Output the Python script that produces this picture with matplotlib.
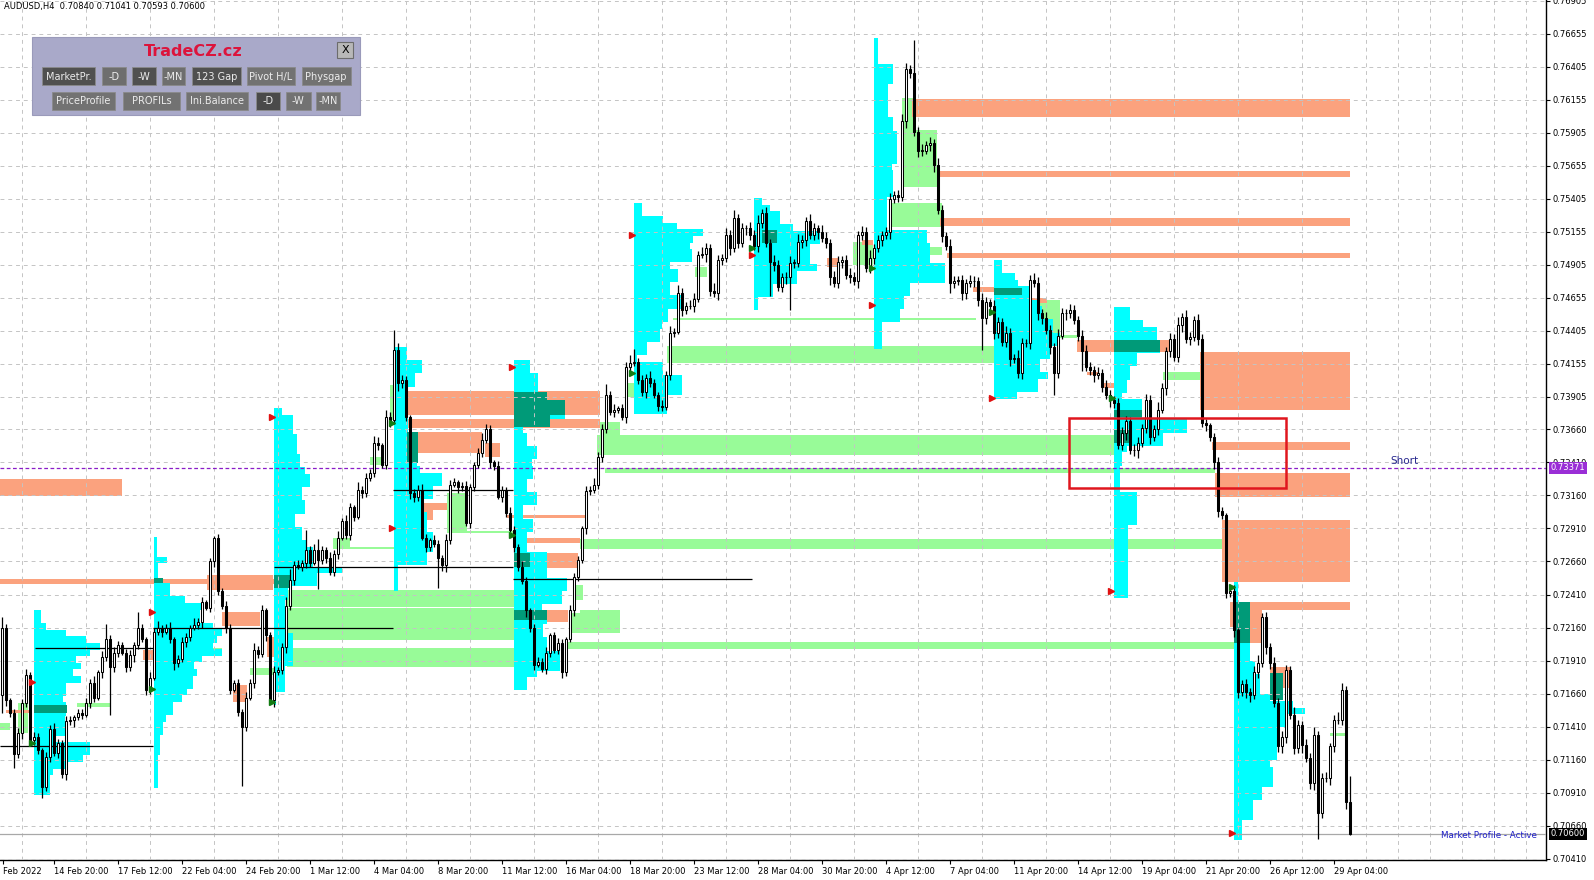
import numpy as np
import matplotlib.pyplot as plt
from matplotlib.patches import Rectangle

# ---------------- AUDUSD H4 candles (prices in 1/10000) ----------------
first_open = 7165
close_pips = [
    7216, 7161, 7151, 7120, 7136, 7159, 7180, 7131, 7133, 7123, 7095, 7118, 7139, 7121, 7129, 7105, 7145, 7146, 7148, 7151,
    7150, 7159, 7174, 7163, 7182, 7194, 7207, 7186, 7197, 7203, 7197, 7186, 7195, 7203, 7216, 7207, 7169, 7178, 7213, 7216,
    7213, 7216, 7207, 7189, 7192, 7205, 7209, 7216, 7218, 7220, 7235, 7231, 7266, 7284, 7244, 7232, 7216, 7169, 7174, 7152,
    7141, 7163, 7174, 7199, 7196, 7229, 7210, 7161, 7182, 7184, 7201, 7232, 7252, 7263, 7262, 7265, 7275, 7265, 7275, 7267,
    7275, 7269, 7258, 7272, 7284, 7297, 7286, 7307, 7300, 7320, 7318, 7329, 7333, 7356, 7354, 7339, 7375, 7373, 7426, 7401,
    7403, 7375, 7318, 7315, 7320, 7284, 7277, 7282, 7279, 7269, 7263, 7282, 7324, 7326, 7322, 7323, 7295, 7322, 7339, 7348,
    7358, 7366, 7341, 7338, 7315, 7320, 7303, 7290, 7277, 7262, 7251, 7229, 7216, 7188, 7190, 7185, 7197, 7210, 7199, 7204,
    7182, 7207, 7229, 7254, 7267, 7291, 7319, 7320, 7324, 7345, 7366, 7392, 7379, 7381, 7382, 7375, 7413, 7416, 7417, 7403,
    7394, 7405, 7401, 7392, 7384, 7383, 7407, 7439, 7440, 7469, 7456, 7459, 7459, 7465, 7498, 7499, 7503, 7471, 7469, 7494,
    7496, 7513, 7503, 7526, 7507, 7518, 7518, 7513, 7505, 7522, 7530, 7507, 7493, 7490, 7474, 7481, 7481, 7492, 7492, 7508,
    7509, 7524, 7513, 7518, 7515, 7511, 7507, 7481, 7477, 7493, 7494, 7483, 7481, 7478, 7513, 7515, 7488, 7496, 7503, 7509,
    7513, 7515, 7540, 7543, 7542, 7599, 7639, 7636, 7591, 7577, 7577, 7581, 7583, 7566, 7532, 7512, 7505, 7477, 7478, 7479,
    7469, 7477, 7478, 7478, 7464, 7450, 7462, 7459, 7439, 7447, 7432, 7439, 7419, 7420, 7409, 7431, 7431, 7479, 7477, 7454,
    7450, 7441, 7428, 7409, 7437, 7454, 7454, 7456, 7449, 7437, 7425, 7413, 7411, 7407, 7409, 7398, 7392, 7388, 7386, 7354,
    7363, 7372, 7350, 7350, 7356, 7367, 7388, 7360, 7366, 7381, 7397, 7425, 7434, 7421, 7445, 7451, 7434, 7436, 7449, 7434,
    7371, 7369, 7360, 7341, 7304, 7301, 7242, 7244, 7214, 7167, 7173, 7167, 7165, 7182, 7189, 7224, 7201, 7189, 7159, 7126,
    7133, 7184, 7150, 7125, 7142, 7127, 7117, 7098, 7135, 7076, 7102, 7102, 7126, 7146, 7146, 7169, 7084, 7060,
]
wick_up = [
    8, 3, 2, 3, 4, 3, 5, 2, 4, 3, 2, 4, 3, 5, 3, 2, 4, 3, 2, 3,
    3, 4, 3, 5, 2, 4, 12, 3, 4, 3, 2, 3, 4, 2, 12, 3, 2, 4, 3, 5,
    2, 3, 4, 2, 3, 4, 3, 2, 5, 3, 4, 2, 3, 1, 3, 2, 4, 3, 2, 3,
    2, 4, 3, 5, 3, 4, 2, 3, 5, 2, 3, 7, 8, 3, 4, 2, 15, 3, 4, 8,
    3, 2, 4, 3, 5, 2, 4, 3, 2, 6, 3, 4, 3, 5, 4, 2, 6, 4, 15, 5,
    4, 3, 2, 3, 4, 5, 3, 2, 4, 3, 2, 5, 4, 3, 2, 3, 4, 3, 2, 4,
    5, 4, 3, 2, 4, 3, 2, 4, 3, 2, 4, 3, 2, 3, 4, 3, 4, 2, 3, 4,
    3, 2, 4, 3, 3, 2, 4, 3, 5, 4, 4, 8, 3, 4, 2, 3, 4, 6, 10, 3,
    4, 3, 5, 3, 2, 4, 3, 5, 3, 6, 4, 3, 5, 4, 3, 5, 4, 3, 6, 4,
    3, 5, 4, 6, 3, 4, 3, 5, 4, 6, 3, 4, 3, 5, 4, 3, 4, 5, 3, 6,
    4, 3, 5, 4, 3, 6, 4, 3, 5, 4, 3, 4, 5, 4, 3, 5, 4, 6, 3, 4,
    3, 4, 5, 3, 4, 6, 4, 3, 25, 4, 5, 3, 4, 3, 5, 4, 3, 5, 4, 3,
    4, 3, 5, 4, 3, 5, 4, 3, 5, 4, 3, 5, 4, 3, 6, 4, 3, 4, 5, 4,
    3, 5, 4, 3, 5, 4, 3, 5, 4, 3, 4, 5, 4, 3, 4, 3, 5, 4, 3, 4,
    5, 4, 3, 5, 4, 3, 5, 4, 3, 6, 4, 3, 5, 4, 6, 3, 5, 4, 3, 4,
    4, 3, 2, 3, 4, 3, 2, 3, 4, 2, 3, 4, 3, 5, 6, 3, 4, 3, 5, 4,
    5, 4, 3, 6, 4, 3, 5, 4, 6, 3, 4, 5, 3, 4, 6, 5, 3, 20,
]
wick_dn = [
    14, 4, 3, 10, 3, 4, 3, 2, 4, 3, 8, 3, 4, 2, 4, 3, 4, 3, 5, 2,
    3, 2, 4, 3, 2, 4, 3, 36, 4, 3, 2, 4, 3, 5, 3, 2, 4, 3, 2, 3,
    4, 2, 3, 5, 3, 2, 4, 3, 2, 3, 4, 2, 3, 4, 3, 2, 4, 3, 2, 3,
    45, 3, 2, 4, 3, 2, 4, 3, 5, 2, 3, 4, 3, 4, 2, 3, 4, 3, 2, 22,
    3, 4, 2, 3, 4, 2, 3, 4, 3, 2, 4, 3, 2, 3, 4, 2, 3, 5, 3, 6,
    4, 3, 5, 4, 3, 2, 4, 3, 2, 23, 4, 5, 3, 2, 4, 3, 2, 4, 3, 2,
    3, 2, 4, 3, 2, 4, 3, 2, 4, 3, 2, 5, 3, 4, 2, 3, 4, 3, 2, 3,
    4, 3, 2, 4, 3, 2, 4, 3, 2, 3, 4, 3, 2, 4, 3, 2, 4, 3, 2, 3,
    3, 4, 3, 2, 4, 3, 2, 4, 3, 2, 4, 3, 2, 4, 3, 2, 6, 4, 3, 5,
    4, 3, 5, 3, 4, 3, 5, 4, 3, 5, 4, 3, 26, 4, 3, 4, 5, 25, 4, 3,
    5, 4, 3, 4, 5, 3, 4, 6, 3, 4, 5, 3, 4, 3, 5, 4, 3, 4, 5, 3,
    4, 3, 5, 3, 4, 3, 5, 4, 3, 5, 4, 3, 4, 5, 3, 4, 3, 8, 4, 3,
    5, 4, 3, 4, 5, 24, 4, 3, 5, 4, 3, 4, 5, 3, 4, 5, 3, 4, 3, 5,
    4, 3, 5, 17, 4, 3, 5, 4, 3, 4, 15, 3, 4, 5, 3, 4, 3, 5, 4, 3,
    4, 5, 3, 4, 6, 3, 4, 5, 3, 4, 3, 5, 4, 3, 4, 5, 3, 4, 3, 4,
    3, 4, 3, 5, 4, 3, 4, 3, 5, 4, 3, 4, 5, 3, 4, 3, 5, 4, 3, 4,
    5, 4, 3, 5, 4, 6, 3, 4, 5, 20, 4, 3, 5, 4, 3, 4, 5, 1,
]

# ---------------- weekly market profiles ----------------
prof_start = [8, 38, 68, 98, 128, 158, 188, 218, 248, 278, 308]
prof_top = [0.72293, 0.72846, 0.73822, 0.74283, 0.74185, 0.75373,
            0.75411, 0.76621, 0.74942, 0.74586, 0.72505]
prof_bin = 0.0005
prof_vol = [
    [1.8, 1.8, 3, 8, 13, 16.5, 14, 10.5, 11.8, 9.8, 11.8, 8, 8, 7.3, 8, 8, 7.8, 7.8, 7.8, 4.8,
     14, 14, 12.3, 8, 4.8, 4, 4, 4],
    [0.8, 0.8, 0.8, 3.3, 1, 1, 1, 4, 4, 7.8, 12.3, 11.5, 11.5, 14.8, 17, 15.8, 14.8, 17, 12, 10,
     10.8, 9.8, 9.8, 8.3, 7, 4.8, 4.8, 3, 2.3, 2.3, 1.5, 1.5, 1.5, 1, 1, 1, 1, 1],
    [2, 4.8, 4.8, 4.8, 5.8, 5.8, 5.8, 6.5, 6.5, 7.8, 9, 9, 7, 7, 7.8, 7.8, 5.3, 5.3, 7, 7,
     8.3, 9.8, 9.8, 9.8, 17, 10.8, 10.8, 3.5, 3.5, 2.8, 2.8, 2.8, 2.8, 2.8, 4.8, 4.8, 4.8, 4.8,
     4.8, 2.8, 2.8, 2.8, 2.8, 0.5, 0.5],
    [3.3, 3.3, 7, 7, 5.3, 5.3, 3.5, 3.5, 3.5, 3.5, 3.5, 3.5, 3.5, 5.8, 5.8, 5.8, 5.8, 5.8, 6.5, 12,
     12, 9.8, 9.8, 7.3, 7.3, 8.3, 8.3, 8.3, 9.8, 9.8, 9.8, 8.3, 8.3, 1, 1, 1, 1],
    [4, 4, 6, 6, 6, 8.3, 12.8, 12.8, 12.8, 9, 2.3, 3.3, 3.3, 5.8, 5.8, 4.5, 4.8, 4.8, 3.3, 3.3,
     5.8, 5.8, 2.3, 2.3, 4.8, 4.8, 3.3, 3.3, 3.3, 8.3, 8.3, 8.3, 8.3, 13.3, 13.3, 12, 12, 7, 8.3,
     8.3, 7.3, 7.3, 8.3, 8.3, 11.5, 11.5, 11.5, 5.8, 3.3, 3.3],
    [2, 2, 7.3, 10.8, 17.3, 14.8, 14, 14.5, 14.5, 9, 11, 11, 9, 9, 12, 12, 8.5, 8.5, 7, 6.5,
     6.5, 3.3, 3.3, 0.8, 7.3, 7.3, 12, 12, 12, 8.3, 8.3, 8.3],
    [2, 4, 6.5, 6.5, 9.8, 16.5, 16.5, 14, 14, 14, 15.8, 10.8, 10.8, 4.8, 4.8, 1, 1],
    [1, 1, 1, 1, 4.8, 4.8, 4.8, 3.5, 3.5, 3.5, 3.5, 3.5, 4.8, 4.8, 5.8, 5.8, 5.8, 5.8, 5.8, 4.5,
     4.8, 4.8, 4.8, 4.8, 3.3, 3.3, 3.3, 3.3, 3.3, 13.3, 13.3, 14, 14, 14, 17.8, 17.8, 17.8, 9, 9,
     7.5, 7.5, 6.5, 6.5, 2, 2, 2, 2],
    [2, 2, 5.3, 6, 9, 9, 11.5, 12, 12.3, 14.8, 14.8, 16.5, 16.5, 14, 14, 11.5, 11.5, 13.5, 11, 11, 5.8],
    [4, 4, 7.3, 10.8, 10.8, 11.5, 11.5, 5.8, 5.8, 4, 4, 3.3, 3.3, 2, 7, 7, 7, 18.3, 18.3, 12.3,
     12.3, 3.3, 2, 2, 1.5, 1.5, 1.5, 1.5, 5.8, 5.8, 5.8, 5.8, 5.8, 3.5, 3.5, 3.5, 3.5, 3.5, 3.5,
     3.5, 3.5, 3.5, 3.5, 3.5],
    [1, 1, 1, 2, 2, 2, 2, 4, 4, 4, 4, 4, 5.3, 5.3, 6.5, 6.5, 6.5, 9, 14.8, 17.8, 13.3, 13.3, 11.5,
     11.5, 10.8, 10.8, 10.8, 9, 9.8, 9.8, 9.8, 7, 7, 4.8, 4.8, 4.8, 2, 2, 2],
]

# zones: (bar from, bar to, price top, price bottom)
poc_zones = [
    (8, 16.25, 0.71574, 0.71514), (38, 40.25, 0.72535, 0.72497), (68, 72, 0.72558, 0.72460),
    (101.25, 104, 0.73640, 0.73405), (128, 136.25, 0.73943, 0.73882), (128, 140.75, 0.73882, 0.73769),
    (128, 137, 0.73769, 0.73678), (128, 132, 0.72724, 0.72619), (128, 136.25, 0.72293, 0.72217),
    (190, 193.75, 0.75169, 0.75070), (248, 255, 0.74730, 0.74677), (278, 289.5, 0.74336, 0.74245),
    (278, 285, 0.73807, 0.73754), (278, 282, 0.73655, 0.73557), (308, 312, 0.72354, 0.72043),
    (317, 320.25, 0.71816, 0.71612),
]
gap_zones = [
    (227.5, 337, 0.76160, 0.76024), (233.75, 337, 0.75615, 0.75570), (234.5, 337, 0.75259, 0.75199),
    (236.25, 337, 0.74995, 0.74957), (299.5, 337, 0.74245, 0.73807), (302.5, 337, 0.73564, 0.73504),
    (303.25, 337, 0.73330, 0.73148), (305, 337, 0.72974, 0.72505), (307, 337, 0.72354, 0.72293),
    (-0.5, 30, 0.73284, 0.73156), (-0.5, 68, 0.72528, 0.72490), (51.25, 67.75, 0.72558, 0.72445),
    (101.25, 149.5, 0.73950, 0.73769), (101.25, 149.5, 0.73738, 0.73670), (102.75, 120, 0.73640, 0.73481),
    (120.75, 124.5, 0.73557, 0.73451), (104, 111.25, 0.73103, 0.73050), (104, 107.75, 0.73050, 0.72974),
    (126.25, 145.75, 0.73012, 0.72989), (130, 144.5, 0.72838, 0.72800), (132, 144, 0.72724, 0.72611),
    (135, 141.5, 0.72293, 0.72202), (55, 64.5, 0.72278, 0.72172), (66.25, 68.75, 0.72089, 0.71937),
    (35.25, 38.75, 0.71990, 0.71915), (57.75, 61.25, 0.71726, 0.71597), (1, 7, 0.71536, 0.71514),
    (206.25, 209, 0.74957, 0.74889), (215, 217.75, 0.75093, 0.75055), (242.75, 257, 0.74737, 0.74699),
    (257, 261.25, 0.74654, 0.74616), (268.75, 292, 0.74336, 0.74245), (271.25, 274, 0.74094, 0.74071),
    (275, 278.25, 0.74011, 0.73973), (307, 315, 0.72354, 0.72165), (311.5, 315, 0.72165, 0.72043),
    (317, 322, 0.71862, 0.71703),
]
bal_zones = [
    (166.25, 248.5, 0.74291, 0.74162), (148.75, 279, 0.73617, 0.73466), (149.5, 154.5, 0.73716, 0.73466),
    (150.75, 303.25, 0.73368, 0.73330), (144.5, 305.75, 0.72830, 0.72755), (140.75, 308.25, 0.72051, 0.71998),
    (71.25, 128.75, 0.72445, 0.72316), (71.25, 132, 0.72309, 0.72066), (71.25, 132.75, 0.72006, 0.71862),
    (167.75, 243.5, 0.74503, 0.74488), (222, 235, 0.75373, 0.75191), (221.25, 235, 0.75040, 0.74980),
    (225, 227.75, 0.76167, 0.75494), (227.75, 233.75, 0.75925, 0.75494), (290.25, 299.5, 0.74094, 0.74034),
    (256.25, 268.75, 0.74374, 0.74351), (84.5, 98.75, 0.72770, 0.72755), (111.25, 116.25, 0.73179, 0.72876),
    (112, 127.75, 0.72891, 0.72876), (92, 95.25, 0.73451, 0.73390), (97, 101.25, 0.73996, 0.73731),
    (142.75, 145.25, 0.72482, 0.72369), (142, 145.25, 0.72270, 0.72119), (-0.5, 2, 0.71438, 0.71385),
    (4, 6.5, 0.71589, 0.71362), (62, 68.75, 0.71854, 0.71801), (18.75, 27, 0.71589, 0.71559),
    (68.75, 72, 0.72293, 0.71937), (332, 335.75, 0.71362, 0.71340), (173.25, 176.25, 0.74889, 0.74813),
    (212.75, 217.75, 0.75078, 0.74904), (156.25, 159.5, 0.74011, 0.73905), (38.25, 55, 0.72006, 0.71983),
    (256.25, 264.5, 0.74639, 0.74374), (82.75, 87, 0.72838, 0.72755), (144.5, 154.5, 0.72293, 0.72119),
]
# naked POC lines: (bar from, bar to, price)
poc_lines = [(8.25, 37.75, 0.72006), (-0.5, 37.75, 0.71264), (37.75, 97.75, 0.72157),
             (68, 127.75, 0.72619), (97.75, 127.75, 0.73201), (127.75, 187.5, 0.72528)]
sell_x = [7.5, 37.5, 67.5, 97.5, 127.5, 157.5, 187.5, 217.5, 247.5, 277.25, 307.5]
sell_y = [0.71748, 0.72278, 0.73754, 0.72914, 0.74132, 0.75131, 0.74980, 0.74601, 0.73897, 0.72437, 0.70606]
buy_x = [7.5, 37.5, 67.5, 97.5, 127.5, 157.5, 187.5, 217.5, 247.5, 277.5, 307.5]
buy_y = [0.71287, 0.71695, 0.71597, 0.73708, 0.72861, 0.74086, 0.75032, 0.74881, 0.74548, 0.73897, 0.72467]
short_level = 0.73371
box_zone = (266.75, 321, 0.73746, 0.73216)

price_ticks = [0.76905, 0.76655, 0.76405, 0.76155, 0.75905, 0.75655, 0.75405, 0.75155, 0.74905,
               0.74655, 0.74405, 0.74155, 0.73905, 0.73660, 0.73410, 0.73160, 0.72910, 0.72660,
               0.72410, 0.72160, 0.71910, 0.71660, 0.71410, 0.71160, 0.70910, 0.70660, 0.70410]
time_ticks = [0.25] + list(range(13, 334, 16))
time_labels = ['Feb 2022', '14 Feb 20:00', '17 Feb 12:00', '22 Feb 04:00', '24 Feb 20:00', '1 Mar 12:00',
               '4 Mar 04:00', '8 Mar 20:00', '11 Mar 12:00', '16 Mar 04:00', '18 Mar 20:00', '23 Mar 12:00',
               '28 Mar 04:00', '30 Mar 20:00', '4 Apr 12:00', '7 Apr 04:00', '11 Apr 20:00', '14 Apr 12:00',
               '19 Apr 04:00', '21 Apr 20:00', '26 Apr 12:00', '29 Apr 04:00']

close = np.array(close_pips) / 1e4
open_ = np.r_[first_open / 1e4, close[:-1]]
high = np.maximum(open_, close) + np.array(wick_up) / 1e4
low = np.minimum(open_, close) - np.array(wick_dn) / 1e4
x = np.arange(len(close))

W, H = 1594, 880
fig = plt.figure(figsize=(W / 100, H / 100), dpi=100)
fig.patch.set_facecolor('white')
ax = fig.add_axes([0, 20 / H, 1546 / W, 860 / H])
ax.set_xlim(-0.5, 386)
ax.set_ylim(0.70401, 0.76909)


def zones(lst, color, z):
    a = np.array(lst)
    ax.barh((a[:, 2] + a[:, 3]) / 2, a[:, 1] - a[:, 0], height=a[:, 2] - a[:, 3], left=a[:, 0],
            color=color, lw=0, zorder=z, antialiased=False)


zones(bal_zones, '#98fb98', 1.0)
zones(gap_zones, '#fba27e', 1.1)
for s, top, vol in zip(prof_start, prof_top, prof_vol):
    centers = top - prof_bin * (np.arange(len(vol)) + 0.5)
    ax.barh(centers, vol, height=prof_bin, left=s, color='#00ffff', lw=0, zorder=1.2, antialiased=False)
zones(poc_zones, '#009a78', 1.3)

for b0, b1, p in poc_lines:
    ax.hlines(p, b0, b1, color='black', lw=0.9, zorder=3)

ax.axhline(close[-1], color='#a8a8a8', lw=0.9, zorder=3)
ax.axhline(short_level, color='#8a1cc8', lw=0.9, ls=(0, (3, 2)), zorder=4)

# candles
ax.vlines(x, low, high, color='black', lw=0.9, zorder=5)
body = np.maximum(np.abs(close - open_), 0.00004)
ax.bar(x, body, 0.7, bottom=np.minimum(open_, close),
       color=np.where(close >= open_, 'white', 'black'), edgecolor='black', lw=0.75, zorder=6)

ax.plot(sell_x, sell_y, ls='none', marker='>', ms=5, color='#e01010', zorder=7)
ax.plot(buy_x, buy_y, ls='none', marker='>', ms=5, color='#127a12', zorder=7)

b0, b1, pt, pb = box_zone
ax.add_patch(Rectangle((b0, pb), b1 - b0, pt - pb, fill=False, ec='#e0161e', lw=1.8, zorder=8))

# axes styling
ax.set_axisbelow(False)
for side in ('top', 'left'):
    ax.spines[side].set_visible(False)
for side in ('right', 'bottom'):
    ax.spines[side].set_linewidth(1.0)
ax.yaxis.tick_right()
ax.set_yticks(price_ticks, [f'{p:.5f}' for p in price_ticks])
ax.set_xticks(time_ticks, time_labels)
ax.set_xticks(np.arange(5, 386, 8), minor=True)
for lbl in ax.get_xticklabels():
    lbl.set_horizontalalignment('left')
ax.tick_params(axis='y', length=3, width=0.8, pad=2, labelsize=6)
ax.tick_params(axis='x', which='major', length=3, width=0.8, pad=2, labelsize=6)
ax.tick_params(axis='x', which='minor', length=0)
ax.grid(True, axis='y', which='major', color='#c4c4c4', lw=0.7, ls=(0, (4, 4)))
ax.grid(True, axis='x', which='minor', color='#c4c4c4', lw=0.7, ls=(0, (4, 4)))

ytr = ax.get_yaxis_transform()
ax.text(1.003, short_level, f'{short_level:.5f}', transform=ytr, fontsize=6, color='white', va='center',
        ha='left', clip_on=False, zorder=9, bbox=dict(boxstyle='square,pad=0.18', fc='#9a2ed6', ec='none'))
ax.text(1.003, close[-1], f'{close[-1]:.5f}', transform=ytr, fontsize=6, color='white', va='center',
        ha='left', clip_on=False, zorder=9, bbox=dict(boxstyle='square,pad=0.18', fc='black', ec='none'))
ax.text(347, short_level + 0.0001, 'Short', fontsize=7.5, color='#28288e', va='bottom', ha='left', zorder=9)

# overlay for the chart chrome (header, control panel, status text)
ui = fig.add_axes([0, 0, 1, 1], zorder=10)
ui.set_xlim(0, W)
ui.set_ylim(H, 0)
ui.axis('off')
ui.patch.set_alpha(0)

ui.text(4, 6, 'AUDUSD,H4  0.70840 0.71041 0.70593 0.70600', fontsize=6, va='center', ha='left')
ui.text(1537, 836, 'Market Profile - Active', fontsize=6.3, color='#2020c8', va='center', ha='right')

ui.add_patch(Rectangle((31.7, 36.7), 328.3, 78.3, fc='#a9a9c9', ec='#9a9aba', lw=0.8))
ui.text(193, 51.5, 'TradeCZ.cz', color='#dc143c', fontsize=11.5, fontweight='bold', ha='center', va='center')
ui.add_patch(Rectangle((337, 42), 16, 16, fc='#b8b8b8', ec='#6c6c6c', lw=0.8))
ui.text(345, 50, 'X', fontsize=8, ha='center', va='center')

buttons = [
    ('MarketPr.', 41.7, 95, 0, '#505050'), ('-D', 101.7, 126, 0, '#6e6e6e'),
    ('-W', 131.7, 156, 0, '#505050'), ('-MN', 161.7, 185, 0, '#6e6e6e'),
    ('123 Gap', 191.7, 240.7, 0, '#505050'), ('Pivot H/L', 246.7, 295, 0, '#727272'),
    ('Physgap', 301.7, 350.7, 0, '#727272'),
    ('PriceProfile', 51.7, 115, 1, '#727272'), ('PROFILs', 122.7, 180, 1, '#727272'),
    ('Ini.Balance', 186, 248.3, 1, '#727272'), ('-D', 256, 280, 1, '#4a4a4a'),
    ('-W', 286, 310.7, 1, '#727272'), ('-MN', 316, 340, 1, '#727272'),
]
for label, bx0, bx1, row, shade in buttons:
    by0 = 67.5 if row == 0 else 92
    ui.add_patch(Rectangle((bx0, by0), bx1 - bx0, 18, fc=shade, ec='#8a8a8a', lw=0.6))
    ui.text((bx0 + bx1) / 2, by0 + 9.5, label, fontsize=7, color='#ececec', ha='center', va='center')

fig.savefig('out.png', dpi=100, facecolor='white')
